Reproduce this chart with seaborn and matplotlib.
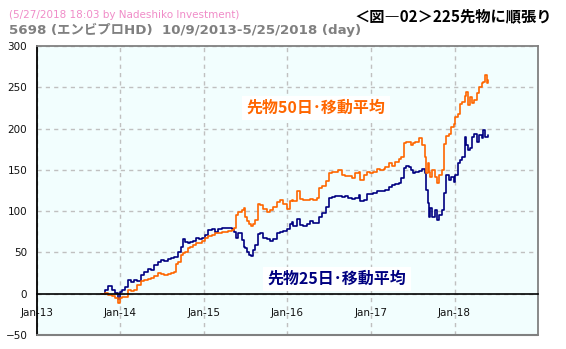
import datetime as dt
import numpy as np
import pandas as pd
import matplotlib
matplotlib.use("Agg")
import matplotlib.pyplot as plt
import matplotlib.dates as mdates
import matplotlib.ticker as mticker
import seaborn as sns

# ---- data (decimal years, cumulative profit) ----
t_years = [
    2013.771, 2013.815, 2013.854, 2013.895, 2013.935, 2013.965, 2013.994, 2014.024, 2014.060, 2014.090,
    2014.126, 2014.162, 2014.204, 2014.246, 2014.282, 2014.324, 2014.366, 2014.402, 2014.444, 2014.486,
    2014.522, 2014.564, 2014.606, 2014.642, 2014.671, 2014.695, 2014.725, 2014.749, 2014.773, 2014.809,
    2014.833, 2014.869, 2014.905, 2014.941, 2014.973, 2015.013, 2015.053, 2015.093, 2015.133, 2015.172,
    2015.213, 2015.253, 2015.292, 2015.333, 2015.364, 2015.381, 2015.412, 2015.453, 2015.480, 2015.492,
    2015.513, 2015.540, 2015.564, 2015.592, 2015.612, 2015.644, 2015.672, 2015.712, 2015.752, 2015.792,
    2015.831, 2015.872, 2015.912, 2015.951, 2015.992, 2016.031, 2016.052, 2016.071, 2016.112, 2016.151,
    2016.191, 2016.231, 2016.271, 2016.311, 2016.351, 2016.373, 2016.415, 2016.457, 2016.495, 2016.531,
    2016.571, 2016.610, 2016.651, 2016.690, 2016.730, 2016.771, 2016.810, 2016.850, 2016.870, 2016.910,
    2016.950, 2016.990, 2017.029, 2017.070, 2017.110, 2017.149, 2017.170, 2017.209, 2017.250, 2017.289,
    2017.329, 2017.361, 2017.389, 2017.418, 2017.449, 2017.475, 2017.499, 2017.529, 2017.577, 2017.613,
    2017.643, 2017.655, 2017.677, 2017.689, 2017.709, 2017.733, 2017.760, 2017.789, 2017.817, 2017.849,
    2017.868, 2017.892, 2017.928, 2017.960, 2017.988, 2018.008, 2018.036, 2018.062, 2018.089, 2018.120,
    2018.138, 2018.158, 2018.180, 2018.209, 2018.236, 2018.266, 2018.296, 2018.324, 2018.342, 2018.362,
    2018.383, 2018.398,
]
sma25 = [
    0, 4.4, 9, 5, 1, -6, 2, 4, 8, 17,
    14.5, 16.5, 15, 22.6, 26.6, 29.4, 28.6, 34.7, 38.7, 40.7,
    40, 42, 42.7, 44, 44.8, 50.8, 57, 65.7, 63, 61,
    63, 64, 67, 66, 68, 71, 77, 78, 75, 78,
    80, 79, 80, 78, 75, 68, 73, 65, 57, 55,
    51, 47, 45.6, 53, 59, 72, 74, 68, 66, 64,
    66, 74, 75, 76, 78, 84, 87, 81.5, 90, 83.5,
    82, 85, 87.5, 85.5, 86, 93, 97.6, 105, 116, 117,
    118, 118.5, 117, 118, 116, 114.5, 116, 120, 111.7, 113.7,
    121, 121, 122, 124, 125, 124, 125.6, 129.6, 131.7, 133,
    133.7, 139.7, 151.8, 154.6, 153.8, 149.8, 145.8, 147.8, 149, 150.6,
    145.8, 125.6, 109.5, 93.3, 103.4, 93.3, 101.4, 89, 95, 101.4,
    121.6, 143.7, 137.7, 141.7, 135.7, 143.7, 157.9, 161.9, 166, 190,
    180, 174, 177, 190, 194, 184, 192, 188, 198, 190,
    190, 192,
]
sma50 = [
    0, 0.4, -1.6, -3, -5.6, -11.7, -5.6, -4.4, -4.4, 5,
    3.6, 5, 10.5, 15, 16.5, 17.3, 18.5, 21, 25.4, 23.8,
    22.6, 23.8, 25.4, 26.6, 35.9, 38.7, 46.8, 48.8, 50.8, 54.8,
    56, 58.9, 61.7, 61, 64, 67, 70, 71, 73, 74,
    75, 75, 76, 77, 80, 95, 99, 101, 104, 93,
    88, 84, 82, 85, 89, 109, 107, 103, 99, 101,
    105, 111, 113, 109, 103, 112, 114, 111.7, 125, 114.5,
    113.7, 113.7, 114.5, 113.7, 116, 128, 130.6, 136, 146, 148,
    146.8, 150, 144, 142.7, 142.7, 140, 146, 146.8, 138, 144,
    146.8, 146, 148, 150.8, 150, 150.8, 153.8, 157.9, 154.6, 159.9,
    162.7, 166, 182, 184, 184, 180, 182, 184, 188, 180,
    166, 145.8, 157.9, 147.8, 141.7, 149.8, 141.7, 133.7, 143.7, 149.8,
    181.5, 191.6, 193.6, 201.7, 205.7, 213.7, 217.8, 229.9, 232, 240,
    244.6, 228.4, 238.5, 230.4, 234.5, 242.5, 250.6, 254.6, 256.7, 264.7,
    254.6, 258.7,
]
series_names = ["先物25日･移動平均", "先物50日･移動平均"]
y_ticks = [-50, 0, 50, 100, 150, 200, 250, 300]
x_label_years = [2013, 2014, 2015, 2016, 2017, 2018]

title_stamp = "(5/27/2018 18:03 by Nadeshiko Investment)"
title_main = "5698 (エンビプロHD)  10/9/2013-5/25/2018 (day)"
title_right = "＜図―02＞225先物に順張り"


def to_date(t):
    y = int(t)
    a = dt.datetime(y, 1, 1)
    b = dt.datetime(y + 1, 1, 1)
    return a + (t - y) * (b - a)


dates = [to_date(t) for t in t_years]
df = pd.concat([
    pd.DataFrame({"date": dates, "value": sma25, "series": series_names[0]}),
    pd.DataFrame({"date": dates, "value": sma50, "series": series_names[1]}),
])

sns.set_style("white")
plt.rcParams["font.family"] = ["DejaVu Sans", "Noto Sans CJK JP"]

W, H = 566, 349
fig = plt.figure(figsize=(W / 100, H / 100), dpi=100)
ax = fig.add_axes([37 / W, 1 - 335 / H, (538 - 37) / W, (335 - 46) / H])
ax.set_facecolor("#F2FEFE")

palette = {series_names[0]: "#000080", series_names[1]: "#FF6600"}
sns.lineplot(data=df, x="date", y="value", hue="series", palette=palette,
             ax=ax, legend=False, linewidth=1.2, drawstyle="steps-post",
             estimator=None, sort=True)

ax.set_xlim(dt.datetime(2013, 1, 1), dt.datetime(2019, 1, 1))
ax.set_ylim(-50, 300)
ax.set_yticks(y_ticks)
ax.set_xlabel("")
ax.set_ylabel("")

major_dates = [dt.datetime(y, 1, 1) for y in x_label_years]
ax.xaxis.set_major_locator(mticker.FixedLocator(mdates.date2num(major_dates)))
ax.xaxis.set_major_formatter(mdates.DateFormatter("%b-%y"))
ax.xaxis.set_minor_locator(mdates.MonthLocator(bymonth=7))

ax.grid(True, which="major", color="#C0C0C0", linestyle=(0, (3, 3)), linewidth=1)
ax.set_axisbelow(True)

for s in ["top", "right"]:
    ax.spines[s].set_color("#808080")
    ax.spines[s].set_linewidth(1.3)
ax.spines["left"].set_color("black")
ax.spines["left"].set_linewidth(1.3)
ax.spines["bottom"].set_position(("data", 0))
ax.spines["bottom"].set_color("black")
ax.spines["bottom"].set_linewidth(1.2)
ax.axhline(-50, color="#808080", linewidth=1.5, clip_on=False, zorder=5)

ax.tick_params(axis="y", length=0, pad=7, labelsize=7.5, labelcolor="#111111")
ax.tick_params(axis="x", which="major", direction="in", length=4, width=1,
               pad=10, labelsize=7.5, labelcolor="#111111")
ax.tick_params(axis="x", which="minor", direction="in", length=4, width=1)

fig.text(9 / W, 1 - 15 / H, title_stamp, color="#F08CC8", fontsize=7.5,
         va="center", ha="left")
fig.text(9 / W, 1 - 30 / H, title_main, color="#808080", fontsize=9.6,
         fontweight="bold", va="center", ha="left")
fig.text(552 / W, 1 - 16 / H, title_right, color="black", fontsize=11,
         fontweight="bold", va="center", ha="right",
         family=["Noto Sans CJK JP", "DejaVu Sans"])

fig.text(316 / W, 1 - 108 / H, series_names[1], color="#FF6600", fontsize=11.5,
         fontweight="bold", va="center", ha="center",
         family=["Noto Sans CJK JP", "DejaVu Sans"],
         bbox=dict(facecolor="white", edgecolor="none", pad=3))
fig.text(337 / W, 1 - 279 / H, series_names[0], color="#000080", fontsize=11.5,
         fontweight="bold", va="center", ha="center",
         family=["Noto Sans CJK JP", "DejaVu Sans"],
         bbox=dict(facecolor="white", edgecolor="none", pad=3))

fig.savefig("out.png", dpi=100, facecolor="white")
